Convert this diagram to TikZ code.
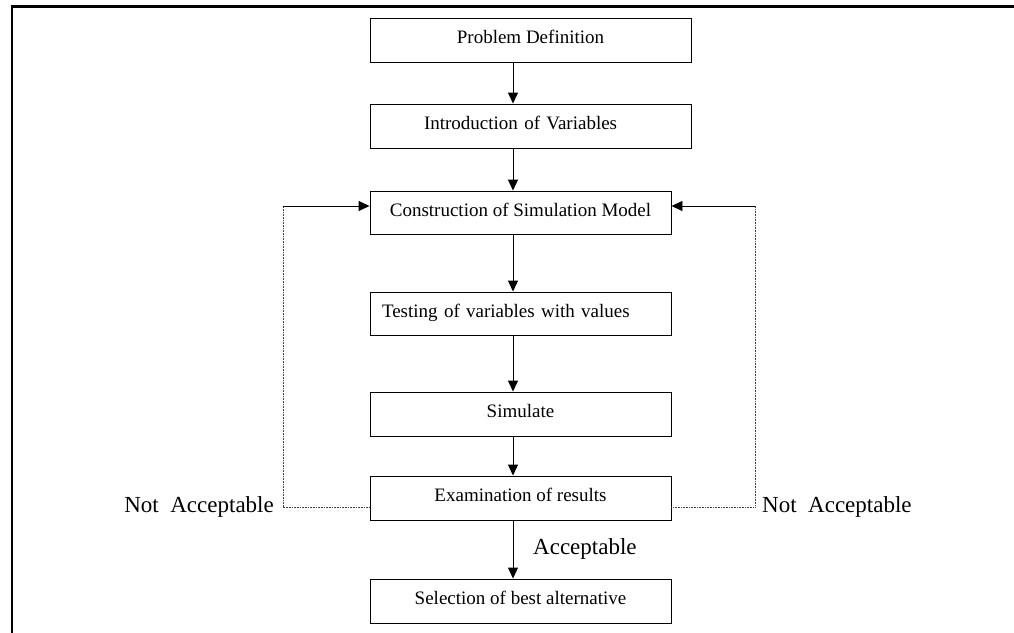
\documentclass[tikz,border=0pt]{standalone}
\usepackage{fontspec}
\setmainfont{Liberation Serif}
\usetikzlibrary{arrows.meta}
\begin{document}
\begin{tikzpicture}[x=1pt,y=-1pt,
  box/.style={draw=black,line width=0.9pt,rectangle,inner sep=0pt,
    minimum height=44pt,text height=13pt,text depth=6pt,
    font=\fontsize{19}{22}\selectfont},
  arr/.style={line width=0.9pt,-{Triangle[length=11pt,width=10pt]}},
  dotline/.style={line width=0.7pt,black!75,dash pattern=on 0.8pt off 0.8pt},
  lbl/.style={inner sep=0pt,font=\fontsize{23}{26}\selectfont}]
\useasboundingbox (0,0) rectangle (1014,632);
\draw[line width=2.7pt] (1016,6.5) -- (12,6.5) -- (12,634);

\node[box,minimum width=321pt] (pd) at (530.5,40) {Problem Definition};
\node[box,minimum width=321pt,text width=213pt,inner xsep=54pt,align=left] (intro) at (530.5,126) {Introduction of Variables};
\node[box,minimum width=301pt,minimum height=43pt] (cons) at (520.5,212.5) {Construction of Simulation Model};
\node[box,minimum width=301pt,minimum height=43pt,text width=277pt,inner xsep=12pt,align=left] (test) at (520.5,313.5) {Testing of variables with values};
\node[box,minimum width=301pt] (sim) at (520.5,414) {Simulate};
\node[box,minimum width=301pt] (exam) at (520.5,498) {Examination of results};
\node[box,minimum width=301pt] (sel) at (520.5,601) {Selection of best alternative};

\coordinate (ax) at (513,0);
\draw[arr] (ax |- pd.south) -- (ax |- intro.north);
\draw[arr] (ax |- intro.south) -- (ax |- cons.north);
\draw[arr] (ax |- cons.south) -- (ax |- test.north);
\draw[arr] (ax |- test.south) -- (ax |- sim.north);
\draw[arr] (ax |- sim.south) -- (ax |- exam.north);
\draw[arr] (ax |- exam.south) -- (ax |- sel.north);

\coordinate (lb) at (283,507);
\coordinate (lt) at (283,206);
\coordinate (rb) at (755,507);
\coordinate (rt) at (755,206);
\draw[dotline] (exam.west |- lb) -- (lb) -- (lt);
\draw[arr] (lt) -- (cons.west |- lt);
\draw[dotline] (exam.east |- rb) -- (rb) -- (rt);
\draw[arr] (rt) -- (cons.east |- rt);

\node[lbl,anchor=east] (nal) at (274,507) {Not\ \ Acceptable};
\node[lbl,anchor=west] (nar) at (762,507) {Not\ \ Acceptable};
\node[lbl,anchor=west] (acc) at (533,549) {Acceptable};
\end{tikzpicture}
\end{document}
